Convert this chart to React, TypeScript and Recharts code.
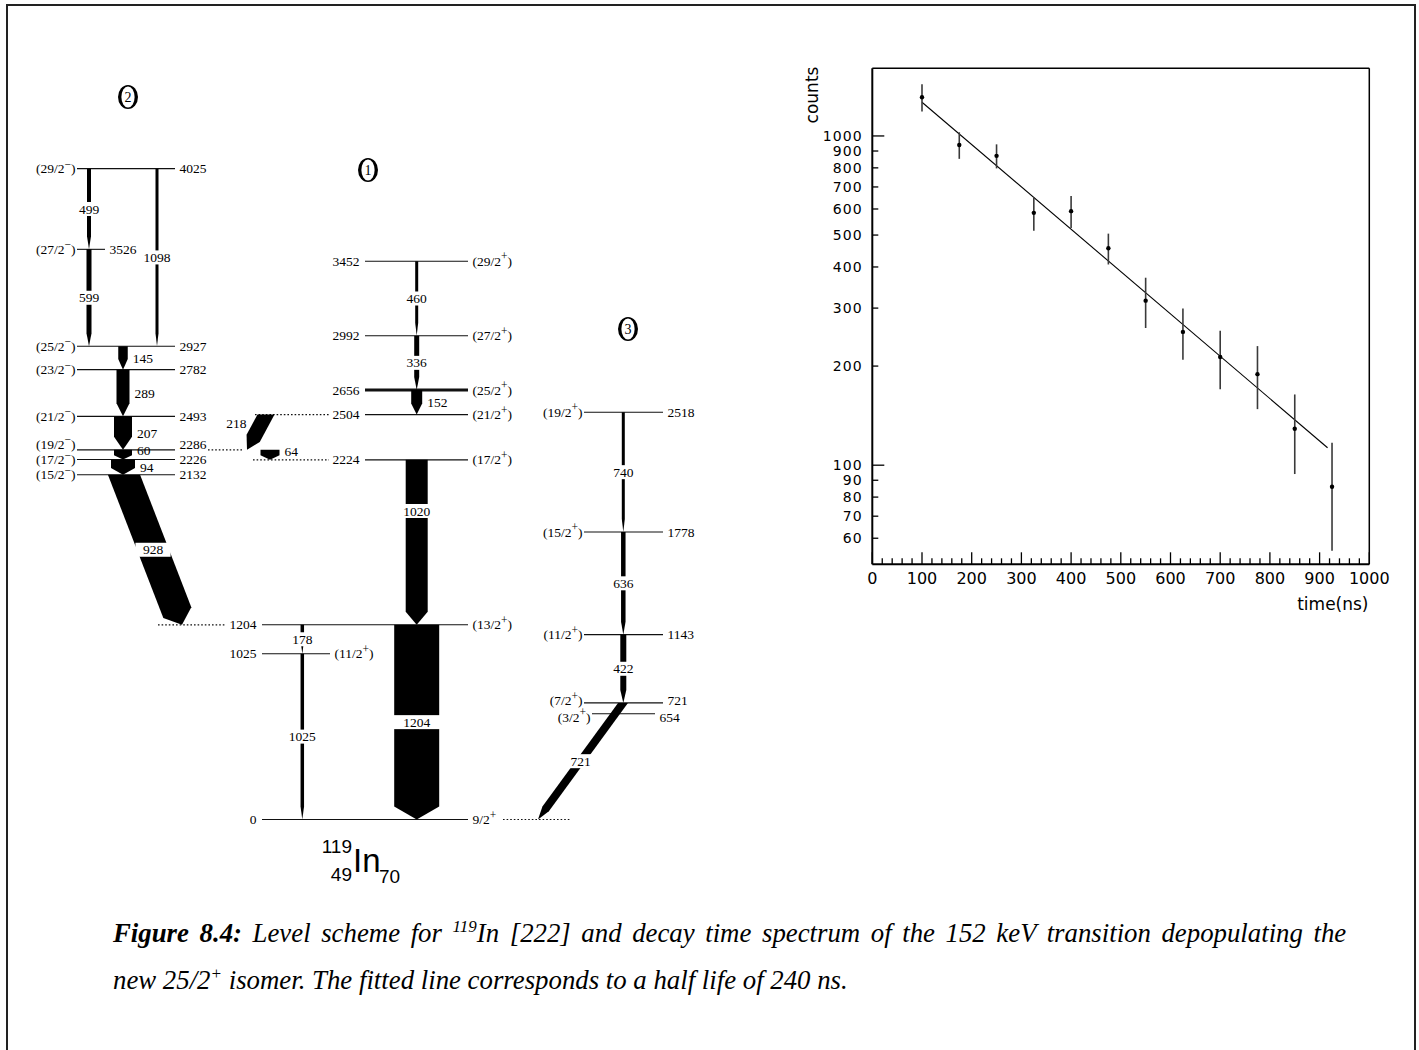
import React from 'react';
import { ComposedChart, XAxis, YAxis, ReferenceLine, Scatter, ErrorBar, Line } from 'recharts';

const SERIF = '"Liberation Serif", "Times New Roman", serif';
const SANS = '"DejaVu Sans", sans-serif';
const NARROW = '"Liberation Sans Narrow", "Liberation Sans", Arial, sans-serif';
const LBL = 13.5;

// ---------- 119In level scheme ----------
// level energies (keV), spin/parity and the band they belong to
type Level = { e: number; jp: string; band: 1 | 2 | 3 };
const levels: Level[] = [
  { e: 4025, jp: '(29/2-)', band: 2 },
  { e: 3526, jp: '(27/2-)', band: 2 },
  { e: 2927, jp: '(25/2-)', band: 2 },
  { e: 2782, jp: '(23/2-)', band: 2 },
  { e: 2493, jp: '(21/2-)', band: 2 },
  { e: 2286, jp: '(19/2-)', band: 2 },
  { e: 2226, jp: '(17/2-)', band: 2 },
  { e: 2132, jp: '(15/2-)', band: 2 },
  { e: 3452, jp: '(29/2+)', band: 1 },
  { e: 2992, jp: '(27/2+)', band: 1 },
  { e: 2656, jp: '(25/2+)', band: 1 },
  { e: 2504, jp: '(21/2+)', band: 1 },
  { e: 2224, jp: '(17/2+)', band: 1 },
  { e: 1204, jp: '(13/2+)', band: 1 },
  { e: 1025, jp: '(11/2+)', band: 1 },
  { e: 0, jp: '9/2+', band: 1 },
  { e: 2518, jp: '(19/2+)', band: 3 },
  { e: 1778, jp: '(15/2+)', band: 3 },
  { e: 1143, jp: '(11/2+)', band: 3 },
  { e: 721, jp: '(7/2+)', band: 3 },
  { e: 654, jp: '(3/2+)', band: 3 },
];

// gamma transitions: energy, initial and final level, relative intensity
type Gamma = { e: number; from: number; to: number; i: number };
const gammas: Gamma[] = [
  { e: 499, from: 4025, to: 3526, i: 4 },
  { e: 599, from: 3526, to: 2927, i: 5 },
  { e: 1098, from: 4025, to: 2927, i: 3 },
  { e: 145, from: 2927, to: 2782, i: 9.5 },
  { e: 289, from: 2782, to: 2493, i: 13 },
  { e: 207, from: 2493, to: 2286, i: 18 },
  { e: 60, from: 2286, to: 2226, i: 18 },
  { e: 94, from: 2226, to: 2132, i: 24 },
  { e: 928, from: 2132, to: 1204, i: 30 },
  { e: 218, from: 2504, to: 2286, i: 15 },
  { e: 64, from: 2286, to: 2224, i: 19 },
  { e: 460, from: 3452, to: 2992, i: 3 },
  { e: 336, from: 2992, to: 2656, i: 5 },
  { e: 152, from: 2656, to: 2504, i: 11 },
  { e: 1020, from: 2224, to: 1204, i: 22 },
  { e: 1204, from: 1204, to: 0, i: 45 },
  { e: 178, from: 1204, to: 1025, i: 3.5 },
  { e: 1025, from: 1025, to: 0, i: 3.5 },
  { e: 740, from: 2518, to: 1778, i: 3 },
  { e: 636, from: 1778, to: 1143, i: 4.5 },
  { e: 422, from: 1143, to: 721, i: 6 },
  { e: 721, from: 721, to: 0, i: 8 },
];

// ---------- decay time spectrum of the 152 keV line ----------
const times = [100, 175, 250, 325, 400, 475, 550, 625, 700, 775, 850, 925];
const counts = [1311, 939, 870, 584, 591, 456, 316, 254, 213, 189, 129, 86];
const countErr = [125, 87, 73, 69, 66, 49, 55, 45, 43, 41, 35, 31];
const fitTimes = [100, 916];
const fitCounts = [1266, 113];
const yTicks = [60, 70, 80, 90, 100, 200, 300, 400, 500, 600, 700, 800, 900, 1000];
const xTicks = [
  0, 20, 40, 60, 80, 100, 120, 140, 160, 180, 200, 220, 240, 260, 280, 300, 320, 340, 360, 380,
  400, 420, 440, 460, 480, 500, 520, 540, 560, 580, 600, 620, 640, 660, 680, 700, 720, 740, 760,
  780, 800, 820, 840, 860, 880, 900, 920, 940, 960, 980, 1000,
];

// ---------- drawing layout for the scheme ----------
const SCHEME_W = 720;
const SCHEME_H = 900;
const E_MIN = -498;
const E_MAX = 5068;
const INTENSITY_PX = 1;

type LevelLayout = {
  x0: number;
  x1: number;
  jpSide: 'left' | 'right';
  dots?: [number, number];
  thick?: boolean;
  labelDy?: number;
};
const bandLayout: Record<number, LevelLayout> = {
  2: { x0: 77, x1: 175, jpSide: 'left' },
  1: { x0: 365, x1: 468, jpSide: 'right' },
  3: { x0: 584, x1: 663, jpSide: 'left' },
};
const levelTweaks: Record<number, Partial<LevelLayout>> = {
  3526: { x1: 105 },
  1204: { x0: 262, dots: [158, 225] },
  1025: { x0: 262, x1: 330 },
  0: { x0: 262, dots: [503, 570] },
  2504: { dots: [255, 329] },
  2224: { dots: [253, 329] },
  2286: { dots: [208, 243], labelDy: -5.5 },
  721: { labelDy: -2 },
  654: { x0: 592, x1: 655, labelDy: 3.5 },
  2656: { thick: true },
};

type GammaLayout = { x: number; x2?: number; label: 'mid' | 'right' | 'left'; at?: number };
const gammaLayout: Record<number, GammaLayout> = {
  499: { x: 89, label: 'mid' },
  599: { x: 89, label: 'mid' },
  1098: { x: 157, label: 'mid' },
  145: { x: 123, label: 'right' },
  289: { x: 123, label: 'right' },
  207: { x: 123, label: 'right' },
  60: { x: 123, label: 'right', at: 0.05 },
  94: { x: 123, label: 'right' },
  928: { x: 124, x2: 182, label: 'mid' },
  218: { x: 266, x2: 247, label: 'left', at: 0.26 },
  64: { x: 270, label: 'right', at: 0.15 },
  460: { x: 416.7, label: 'mid' },
  336: { x: 416.7, label: 'mid' },
  152: { x: 416.7, label: 'right' },
  1020: { x: 416.7, label: 'mid', at: 0.31 },
  1204: { x: 416.7, label: 'mid' },
  178: { x: 302.3, label: 'mid' },
  1025: { x: 302.3, label: 'mid' },
  740: { x: 623.3, label: 'mid' },
  636: { x: 623.3, label: 'mid' },
  422: { x: 623.3, label: 'mid' },
  721: { x: 623, x2: 538, label: 'mid' },
};

function splitJp(jp: string) {
  const m = jp.match(/^(.*?)([+-])(\)?)$/);
  if (!m) return { core: jp, sign: '', close: '' };
  return { core: m[1], sign: m[2] === '-' ? '\u2212' : '+', close: m[3] };
}

const JpText = ({ x, y, anchor, jp }: { x: number; y: number; anchor: 'start' | 'end'; jp: string }) => {
  const { core, sign, close } = splitJp(jp);
  return (
    <text x={x} y={y} textAnchor={anchor} fontFamily={SERIF} fontSize={LBL} fill="#000">
      {core}
      <tspan dy={-5.5} fontSize={11.5}>{sign}</tspan>
      {close ? <tspan dy={5.5}>{close}</tspan> : null}
    </text>
  );
};

const levelShape = (lv: Level, lay: LevelLayout) => (p: any) => {
  const { x1, x2, y1: y } = p;
  const base = y + 4.6 + (lay.labelDy ?? 0);
  return (
    <g>
      <line x1={x1} x2={x2} y1={y} y2={y} stroke="#111" strokeWidth={lay.thick ? 3.2 : 1.1} />
      {lay.jpSide === 'left' ? (
        <>
          <JpText x={x1 - 1.5} y={base} anchor="end" jp={lv.jp} />
          <text x={x2 + 4.5} y={base} fontFamily={SERIF} fontSize={LBL} fill="#000">{lv.e}</text>
        </>
      ) : (
        <>
          <text x={x1 - 5.5} y={base} textAnchor="end" fontFamily={SERIF} fontSize={LBL} fill="#000">{lv.e}</text>
          <JpText x={x2 + 4.5} y={base} anchor="start" jp={lv.jp} />
        </>
      )}
    </g>
  );
};

const gammaShape = (g: Gamma, col: GammaLayout) => (p: any) => {
  const { x1, y1, x2, y2 } = p;
  const w = g.i * INTENSITY_PX;
  const dx = x2 - x1;
  const dy = y2 - y1;
  const len = Math.hypot(dx, dy);
  const ux = dx / len;
  const uy = dy / len;
  const px = -uy;
  const py = ux;
  const hw = w / 2 / uy;
  const head = Math.min(13, len * 0.45);
  const bx = x2 - ux * head;
  const by = y2 - uy * head;
  const pts = [
    [x1 - hw, y1],
    [x1 + hw, y1],
    [bx - (px * w) / 2, by - (py * w) / 2],
    [x2, y2],
    [bx + (px * w) / 2, by + (py * w) / 2],
  ]
    .map((q) => q.join(','))
    .join(' ');

  const t = col.at ?? 0.5;
  const cx = x1 + dx * t;
  const cy = y1 + dy * t;
  const txt = String(g.e);
  const tw = txt.length * 0.5 * LBL;
  let label: React.ReactNode;
  if (col.label === 'mid') {
    const rw = Math.max(tw + 4, 2 * hw + 3);
    label = (
      <>
        <rect x={cx - rw / 2} y={cy - 7} width={rw} height={14} fill="#fff" />
        <text x={cx} y={cy + 4.6} textAnchor="middle" fontFamily={SERIF} fontSize={LBL} fill="#000">{txt}</text>
      </>
    );
  } else if (col.label === 'right') {
    label = (
      <text x={cx + hw + 5} y={cy + 4.6} fontFamily={SERIF} fontSize={LBL} fill="#000">{txt}</text>
    );
  } else {
    label = (
      <text x={cx - hw - 6} y={cy + 4.6} textAnchor="end" fontFamily={SERIF} fontSize={LBL} fill="#000">{txt}</text>
    );
  }
  return (
    <g>
      <polygon points={pts} fill="#000" />
      {label}
    </g>
  );
};

function LevelScheme() {
  return (
    <ComposedChart width={SCHEME_W} height={SCHEME_H} margin={{ top: 0, right: 0, bottom: 0, left: 0 }}>
      <XAxis type="number" dataKey="x" domain={[0, SCHEME_W]} allowDataOverflow hide height={0} />
      <YAxis type="number" domain={[E_MIN, E_MAX]} allowDataOverflow hide width={0} />
      {levels.map((lv) => {
        const lay = { ...bandLayout[lv.band], ...(levelTweaks[lv.e] || {}) };
        return (
          <ReferenceLine
            key={`lv-${lv.e}`}
            segment={[{ x: lay.x0, y: lv.e }, { x: lay.x1, y: lv.e }]}
            shape={levelShape(lv, lay)}
          />
        );
      })}
      {levels.map((lv) => {
        const lay = { ...bandLayout[lv.band], ...(levelTweaks[lv.e] || {}) };
        if (!lay.dots) return null;
        return (
          <ReferenceLine
            key={`dots-${lv.e}`}
            segment={[{ x: lay.dots[0], y: lv.e }, { x: lay.dots[1], y: lv.e }]}
            stroke="#111"
            strokeWidth={1.2}
            strokeDasharray="1.6 2"
          />
        );
      })}
      {gammas.map((g) => {
        const col = gammaLayout[g.e];
        return (
          <ReferenceLine
            key={`g-${g.e}`}
            segment={[{ x: col.x, y: g.from }, { x: col.x2 ?? col.x, y: g.to }]}
            shape={gammaShape(g, col)}
          />
        );
      })}
    </ComposedChart>
  );
}

const decayPoints = times.map((t, k) => ({ t, c: counts[k], err: countErr[k] }));
const fitLine = fitTimes.map((t, k) => ({ t, c: fitCounts[k] }));

const YTick = (props: any) => {
  const { x, y, payload } = props;
  const v = payload.value;
  const major = v === 100 || v === 1000;
  return (
    <g>
      <line x1={x} x2={x + (major ? 12 : 6)} y1={y} y2={y} stroke="#000" strokeWidth={1.3} />
      <text
        x={x - 9.5}
        y={y + 5}
        textAnchor="end"
        fontFamily={SANS}
        fontSize={14}
        letterSpacing={1.1}
        fill="#000"
      >
        {v}
      </text>
    </g>
  );
};

const XTick = (props: any) => {
  const { x, y, payload } = props;
  const v = payload.value;
  const major = v % 100 === 0;
  return (
    <g>
      <line x1={x} x2={x} y1={y} y2={y - (major ? 12 : 6)} stroke="#000" strokeWidth={1.3} />
      {major ? (
        <text x={x} y={y + 19.5} textAnchor="middle" fontFamily={SANS} fontSize={16} fill="#000">{v}</text>
      ) : null}
    </g>
  );
};

const Dot = (p: any) => <circle cx={p.cx} cy={p.cy} r={2.2} fill="#000" />;

function DecayCurve() {
  return (
    <ComposedChart width={620} height={600} margin={{ top: 28.3, right: 30.7, bottom: 35.7, left: 32.3 }}>
      <XAxis
        type="number"
        dataKey="t"
        domain={[0, 1000]}
        allowDataOverflow
        ticks={xTicks}
        interval={0}
        tick={<XTick />}
        tickLine={false}
        tickSize={0}
        tickMargin={0}
        height={40}
        axisLine={{ stroke: '#000', strokeWidth: 2 }}
      />
      <YAxis
        type="number"
        dataKey="c"
        scale="log"
        domain={[50, 1605]}
        allowDataOverflow
        ticks={yTicks}
        interval={0}
        tick={<YTick />}
        tickLine={false}
        tickSize={0}
        tickMargin={0}
        width={60}
        axisLine={{ stroke: '#000', strokeWidth: 2 }}
      />
      <ReferenceLine x={1000} stroke="#000" strokeWidth={1.5} />
      <ReferenceLine y={1605} stroke="#000" strokeWidth={1.5} />
      <Line data={fitLine} dataKey="c" stroke="#000" strokeWidth={1.1} dot={false} isAnimationActive={false} />
      <Scatter data={decayPoints} dataKey="c" shape={Dot} isAnimationActive={false}>
        <ErrorBar dataKey="err" direction="y" width={0} stroke="#3a3a3a" strokeWidth={1.6} />
      </Scatter>
    </ComposedChart>
  );
}

const BandTag = ({ x, y, n }: { x: number; y: number; n: string }) => (
  <g>
    <ellipse cx={x} cy={y} rx={10} ry={12} fill="#000" />
    <ellipse cx={x} cy={y} rx={6.6} ry={10.6} fill="#fff" />
    <text x={x} y={y + 5} textAnchor="middle" fontFamily={SERIF} fontSize={14} fill="#000">{n}</text>
  </g>
);

export default function App() {
  return (
    <div style={{ position: 'absolute', left: 0, top: 0, width: 1419, height: 1050, overflow: 'hidden', background: '#fff' }}>
      <div
        style={{
          position: 'absolute',
          left: 6,
          top: 4,
          width: 1409.5,
          height: 1120,
          border: '2px solid #222',
          boxSizing: 'border-box',
        }}
      />
      <div style={{ position: 'absolute', left: 0, top: 0 }}>
        <LevelScheme />
      </div>
      <div style={{ position: 'absolute', left: 780, top: 40 }}>
        <DecayCurve />
      </div>
      <svg width={1419} height={1050} style={{ position: 'absolute', left: 0, top: 0, pointerEvents: 'none' }}>
        <BandTag x={128} y={97} n="2" />
        <BandTag x={368} y={170} n="1" />
        <BandTag x={628} y={329} n="3" />

        <g fontFamily={NARROW} fill="#000">
          <text x={352} y={853} textAnchor="end" fontSize={19}>119</text>
          <text x={353} y={871.5} fontSize={33}>In</text>
          <text x={352} y={881} textAnchor="end" fontSize={19}>49</text>
          <text x={379} y={883} fontSize={19}>70</text>
        </g>

        <text
          transform="translate(817.5 95) rotate(-90)"
          textAnchor="middle"
          fontFamily={SANS}
          fontSize={17}
          fill="#000"
        >
          counts
        </text>
        <text x={1368.5} y={609.5} textAnchor="end" fontFamily={SANS} fontSize={17} fill="#000">time(ns)</text>

        <g fontFamily={SERIF} fontStyle="italic" fontSize={26.8} fill="#000">
          <text x={113} y={942} style={{ wordSpacing: '3.9px' }}>
            <tspan fontWeight="bold">Figure 8.4:</tspan>
            {' Level scheme for '}
            <tspan dy={-10} fontSize={17}>119</tspan>
            <tspan dy={10}>In [222] and decay time spectrum of the 152 keV transition depopulating the</tspan>
          </text>
          <text x={113} y={989}>
            {'new 25/2'}
            <tspan dy={-10} fontSize={17}>+</tspan>
            <tspan dy={10}> isomer. The fitted line corresponds to a half life of 240 ns.</tspan>
          </text>
        </g>
      </svg>
    </div>
  );
}
